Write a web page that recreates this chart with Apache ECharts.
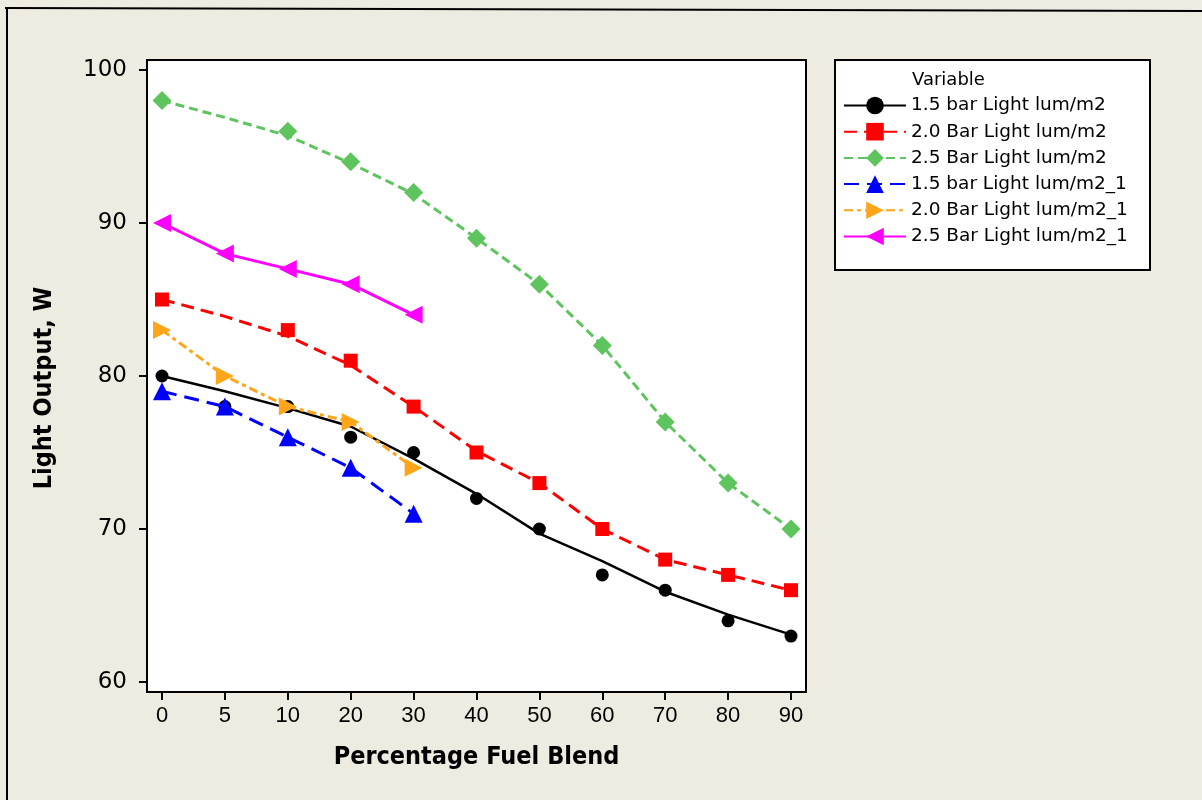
<!DOCTYPE html>
<html>
<head>
<meta charset="utf-8">
<title>Light Output vs Percentage Fuel Blend</title>
<script src="https://cdn.jsdelivr.net/npm/echarts@6/dist/echarts.min.js"></script>
<style>
  html, body { margin: 0; padding: 0; background: #eeebe0; }
  #chart { width: 1202px; height: 800px; }
</style>
</head>
<body>
<div id="chart"></div>
<script>
// Percentage fuel blend categories (x axis)
const categories = ['0', '5', '10', '20', '30', '40', '50', '60', '70', '80', '90'];

// Measured light output, W
const bar15Points = [80, 78, 78, 76, 75, 72, 70, 67, 66, 64, 63];
const bar20Points = [85, null, 83, 81, 78, 75, 73, 70, 68, 67, 66];
const bar25Points = [98, null, 96, 94, 92, 89, 86, 82, 77, 73, 70];
const bar15bPoints = [79, 78, 76, 74, 71];
const bar20bPoints = [83, 80, 78, 77, 74];
const bar25bPoints = [90, 88, 87, 86, 84];

// Smoothed trend lines through the first three series
const bar15Fit = [80, 79.0, 77.9, 76.7, 74.6, 72.3, 69.7, 67.9, 65.9, 64.4, 63.1];
const bar20Fit = [85, 83.9, 82.6, 80.7, 78, 75.1, 73, 70, 68, 67, 66];
const bar25Fit = [98, 96.9, 95.7, 93.9, 91.9, 89, 86, 82, 77, 73, 70];

// Legend labels
const seriesNames = [
  '1.5 bar Light lum/m2',
  '2.0 Bar Light lum/m2',
  '2.5 Bar Light lum/m2',
  '1.5 bar Light lum/m2_1',
  '2.0 Bar Light lum/m2_1',
  '2.5 Bar Light lum/m2_1'
];

const yTicks = { min: 60, max: 100, step: 10 };

const rightTri = 'path://M0,0 L10,5 L0,10 Z';
const leftTri = 'path://M10,0 L0,5 L10,10 Z';

const COLORS = {
  black: '#000000',
  red: '#ff0000',
  green: '#5ec45e',
  blue: '#0000ff',
  orange: '#ffa51a',
  magenta: '#ff00ff'
};

function fitLine(name, data, color, symbol, symbolSize, lineType, width) {
  return {
    name: name,
    type: 'line',
    data: data,
    symbol: symbol,
    symbolSize: symbolSize,
    showSymbol: false,
    connectNulls: true,
    itemStyle: { color: color },
    lineStyle: { color: color, width: width, type: lineType },
    emphasis: { disabled: true },
    silent: true,
    animation: false
  };
}

function pointSeries(name, data, color, symbol, symbolSize) {
  return {
    name: name,
    type: 'scatter',
    data: data,
    symbol: symbol,
    symbolSize: symbolSize,
    itemStyle: { color: color, opacity: 1 },
    emphasis: { disabled: true },
    silent: true,
    animation: false
  };
}

function connectedSeries(name, data, color, symbol, symbolSize, lineType, width) {
  return {
    name: name,
    type: 'line',
    data: data,
    symbol: symbol,
    symbolSize: symbolSize,
    showSymbol: true,
    showAllSymbol: true,
    itemStyle: { color: color, opacity: 1 },
    lineStyle: { color: color, width: width, type: lineType },
    emphasis: { disabled: true },
    silent: true,
    animation: false
  };
}

const chart = echarts.init(document.getElementById('chart'), null, { renderer: 'canvas' });

const axisFont = "'DejaVu Sans', Verdana, sans-serif";
const narrowFont = "'Liberation Sans', Arial, sans-serif";
const titleFont = "'DejaVu Sans Condensed', 'DejaVu Sans', sans-serif";
const legendFont = "'DejaVu Sans', Verdana, sans-serif";

chart.setOption({
  backgroundColor: '#eeebe0',
  animation: false,
  graphic: [
    // outer frame edges
    { type: 'line', z: 0, shape: { x1: 5, y1: 8, x2: 1202, y2: 11 }, style: { stroke: '#000', lineWidth: 2 } },
    { type: 'line', z: 0, shape: { x1: 7, y1: 8, x2: 7, y2: 800 }, style: { stroke: '#000', lineWidth: 2 } },
    // plot frame
    { type: 'rect', z: 0, shape: { x: 147, y: 60, width: 659, height: 632 }, style: { fill: '#ffffff', stroke: '#000', lineWidth: 2 } },
    // legend box
    { type: 'rect', z: 0, shape: { x: 835, y: 60, width: 315, height: 210 }, style: { fill: '#ffffff', stroke: '#000', lineWidth: 2 } },
    { type: 'text', z: 1, left: 912, top: 71, style: { text: 'Variable', fill: '#000', font: "18px " + legendFont } }
  ],
  grid: { left: 162, right: 1202 - 791, top: 70, bottom: 800 - 682, containLabel: false },
  xAxis: {
    type: 'category',
    data: categories,
    boundaryGap: false,
    offset: 10,
    axisLine: { show: false },
    axisTick: { show: true, alignWithLabel: true, length: 8, lineStyle: { color: '#000', width: 2 } },
    axisLabel: { color: '#000', fontSize: 22, fontFamily: narrowFont, margin: 13, interval: 0 },
    splitLine: { show: false },
    name: 'Percentage Fuel Blend',
    nameLocation: 'middle',
    nameGap: 53,
    nameTextStyle: { color: '#000', fontSize: 25, fontWeight: 'bold', fontFamily: titleFont }
  },
  yAxis: {
    type: 'value',
    min: yTicks.min,
    max: yTicks.max,
    interval: yTicks.step,
    offset: 15,
    axisLine: { show: false },
    axisTick: { show: true, length: 8, lineStyle: { color: '#000', width: 2 } },
    axisLabel: { color: '#000', fontSize: 23, fontFamily: axisFont, margin: 20 },
    splitLine: { show: false },
    name: 'Light Output, W',
    nameLocation: 'middle',
    nameGap: 90,
    nameRotate: 90,
    nameTextStyle: { color: '#000', fontSize: 25, fontWeight: 'bold', fontFamily: titleFont, padding: [0, 24, 0, 0] }
  },
  legend: {
    z: 10,
    orient: 'vertical',
    left: 838,
    top: 91,
    itemWidth: 62,
    itemHeight: 22,
    itemGap: 7.2,
    selectedMode: false,
    data: seriesNames,
    textStyle: { color: '#000', fontSize: 18.5, fontFamily: legendFont }
  },
  series: [
    fitLine(seriesNames[0], bar15Fit, COLORS.black, 'circle', 13, 'solid', 2.5),
    pointSeries('pts-1.5', bar15Points, COLORS.black, 'circle', 13),
    fitLine(seriesNames[1], bar20Fit, COLORS.red, 'rect', 14, [13, 7], 3),
    pointSeries('pts-2.0', bar20Points, COLORS.red, 'rect', 14),
    fitLine(seriesNames[2], bar25Fit, COLORS.green, 'diamond', 19, [9, 5], 3),
    pointSeries('pts-2.5', bar25Points, COLORS.green, 'diamond', 19),
    connectedSeries(seriesNames[3], bar15bPoints, COLORS.blue, 'triangle', 18, [15, 8], 3),
    connectedSeries(seriesNames[4], bar20bPoints, COLORS.orange, rightTri, 18, [9, 4, 4, 4], 3),
    connectedSeries(seriesNames[5], bar25bPoints, COLORS.magenta, leftTri, 18, 'solid', 3)
  ]
});
</script>
</body>
</html>
